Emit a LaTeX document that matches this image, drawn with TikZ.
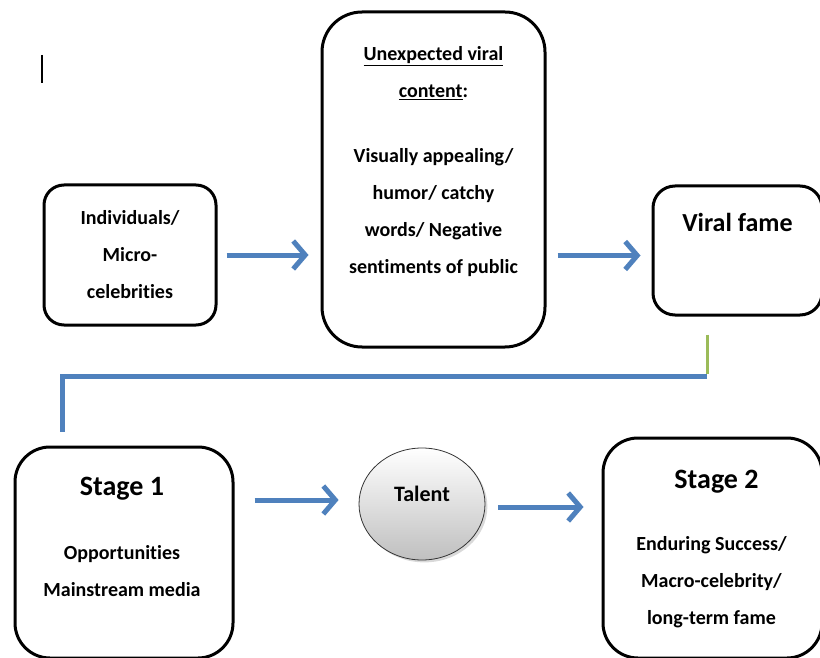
\documentclass[tikz,border=0pt]{standalone}
\usepackage{fontspec}
\setmainfont{Carlito}[Ligatures=CommonOff]
\usetikzlibrary{arrows.meta, positioning, shadows, shapes.geometric}
\definecolor{flowblue}{RGB}{79,129,189}
\definecolor{flowgreen}{RGB}{155,187,89}
\tikzset{
    box/.style={draw, line width=3pt, rounded corners=#1, inner sep=0pt},
    box/.default={20pt},
    flow/.style={draw=flowblue, line width=5pt, -{Straight Barb[length=12pt, width=28pt]}},
    txt/.style={font=\bfseries\fontsize{20}{37}\selectfont, align=center, inner sep=0pt},
    head/.style={font=\bfseries\fontsize{28}{34}\selectfont, inner sep=0pt},
}

\begin{document}
\begin{tikzpicture}[x=1pt, y=-1pt]
    \useasboundingbox (0,0) rectangle (820,658);
    % top row
    \node[box, txt, minimum width=172pt, minimum height=140pt] (indiv) at (130,255) {Individuals/\\Micro-\\celebrities};
    \node[box=40pt, minimum width=223pt, minimum height=335pt] (content) at (433.5,179.5) {};
    \node[box=22pt, minimum width=169pt, minimum height=129pt] (fame) at (737.5,250.5) {};
    % bottom row
    \node[box=35pt, minimum width=218pt, minimum height=211pt] (stage1) at (124,552.5) {};
    \node[ellipse, draw=black!80, thick, minimum width=126pt, minimum height=112pt,
          top color=white, bottom color=black!25, drop shadow={opacity=0.3}] (talent) at (422,504) {};
    \node[box=35pt, minimum width=219pt, minimum height=220pt] (stage2) at (712.5,548) {};
    % texts
    \node[txt] (contentHead) at ([yshift=-63pt]content.north) {\underline{Unexpected viral}\\\underline{content}:};
    \node[txt] (contentBody) at ([yshift=-33pt]content.center) {Visually appealing/\\humor/ catchy\\words/ Negative\\sentiments of public};
    \node[head, font=\bfseries\fontsize{26}{30}\selectfont] (fameText) at ([yshift=-38pt]fame.north) {Viral fame};
    \node[head] (stage1Head) at ([yshift=-43pt, xshift=-2pt]stage1.north) {Stage 1};
    \node[txt] (stage1Body) at ([yshift=-126pt, xshift=-2pt]stage1.north) {Opportunities\\Mainstream media};
    \node[head, font=\bfseries\fontsize{22}{26}\selectfont] (talentText) at ([yshift=10pt]talent.center) {Talent};
    \node[head] (stage2Head) at ([yshift=-45pt, xshift=4pt]stage2.north) {Stage 2};
    \node[txt] (stage2Body) at ([yshift=-146pt, xshift=-1pt]stage2.north) {Enduring Success/\\Macro-celebrity/\\long-term fame};
    % arrows
    \draw[flow, shorten <=9pt, shorten >=12pt] (indiv.east) -- (indiv.east -| content.west);
    \draw[flow, shorten <=11pt, shorten >=11pt] ([yshift=-5pt]content.east |- fame.west) -- ([yshift=-5pt]fame.west);
    \draw[flow, shorten <=20pt, shorten >=20pt] ([yshift=4pt]stage1.east |- talent.west) -- ([yshift=4pt]talent.west);
    \draw[flow, shorten <=13pt, shorten >=18pt] ([yshift=-3pt]talent.east) -- ([yshift=-3pt]talent.east -| stage2.west);
    % elbow from viral fame down to stage 1
    \coordinate (turnR) at (707,376);
    \coordinate (turnL) at (62,376);
    \draw[flowgreen, line width=3pt, shorten <=18pt] (fame.south -| turnR) -- ([yshift=2pt]turnR);
    \draw[flowblue, line width=5pt, shorten >=14pt] (turnR) -- (turnL) -- (stage1.north -| turnL);
    % stray mark
    \draw[line width=2pt] (42,55) -- (42,83);
\end{tikzpicture}
\end{document}
